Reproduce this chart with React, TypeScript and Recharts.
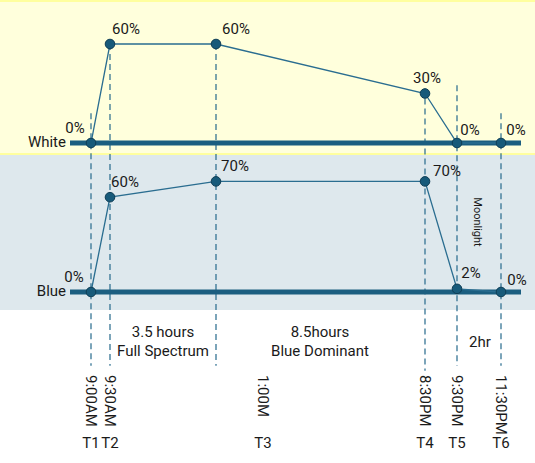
import { ComposedChart, Line, XAxis, YAxis, ReferenceLine, ReferenceDot } from 'recharts'

// schedule stages, left to right
const stages = ['T1', 'T2', 'T3', 'T4', 'T5', 'T6']
const times = ['9:00AM', '9:30AM', '1:00M', '8:30PM', '9:30PM', '11:30PM']
// schematic x position of each stage (the drawing is not to time scale)
const slots = [2.1, 4.0, 14.6, 35.5, 38.7, 43.1]
const whiteLevels = [0, 60, 60, 30, 0, 0]
const blueLevels = [0, 60, 70, 70, 2, 0]

const rows = slots.map((slot, i) => ({ slot, white: whiteLevels[i], blue: blueLevels[i] }))

// label offsets from each point (px)
const whiteLabelOff = [[-16, -15], [16, -15], [20, -15], [2, -16], [13, -13], [15, -13]]
const blueLabelOff = [[-17, -15], [15, -15], [19, -15], [22, -10], [14, -16], [16, -12]]
// top of each dashed marker, in white-axis units
const dashTop = [18, 60, 60, 33, 35, 18]
const dashBottom = [-135, -135, -135, -138, -135, -135]
const timeLabelShift = [0, 0, 47, 0, 0, 0]

const ink = '#1B5E80'
const font = 'Roboto, sans-serif'

const makeDot = (offsets: number[][]) => (p: any) => {
  const { cx, cy, index, value } = p
  const [dx, dy] = offsets[index] || [0, 0]
  return (
    <g key={`d-${index}`}>
      <circle cx={cx} cy={cy} r={4.8} fill="#175A7A" stroke="#0E3D55" strokeWidth={1} />
      <text x={cx + dx} y={cy + dy} textAnchor="middle" dominantBaseline="central"
        fontSize={15} fill="#1a1a1a" fontFamily={font}>{value}%</text>
    </g>
  )
}

const timeLabel = (i: number) => (p: any) => {
  const x = p.cx + timeLabelShift[i]
  const y = p.cy + 83
  return (
    <g>
      <text x={x} y={y} transform={`rotate(90 ${x} ${y})`} dominantBaseline="central"
        fontSize={15} fill="#1a1a1a" fontFamily={font}>{times[i]}</text>
      <text x={x} y={p.cy + 151} textAnchor="middle" dominantBaseline="central"
        fontSize={15} fill="#1a1a1a" fontFamily={font}>{stages[i]}</text>
    </g>
  )
}

const txt: React.CSSProperties = { position: 'absolute', fontSize: 15, lineHeight: '19px', color: '#1a1a1a', whiteSpace: 'nowrap' }

export default function App() {
  return (
    <div style={{ position: 'absolute', left: 0, top: 0, width: 535, height: 463, fontFamily: font, background: '#fff' }}>
      <div style={{ position: 'absolute', left: 0, top: 0, width: 535, height: 155, background: '#FFFFDC', borderTop: '2px solid #FFFF9E', borderBottom: '2px solid #FFFF9E', boxSizing: 'border-box' }} />
      <div style={{ position: 'absolute', left: 0, top: 155, width: 535, height: 155, background: '#DEE8ED' }} />

      <div style={{ position: 'absolute', left: 0, top: 0 }}>
        <ComposedChart width={535} height={463} data={rows} margin={{ top: 0, right: 14, left: 70, bottom: 0 }}>
          <XAxis dataKey="slot" type="number" domain={[0, 45.1]} hide />
          <YAxis yAxisId="w" type="number" domain={[-193.94, 86.67]} hide />
          <YAxis yAxisId="b" type="number" domain={[-108.23, 184.81]} hide />

          {slots.map((s, i) => (
            <ReferenceLine key={`v-${i}`} yAxisId="w" stroke="#25698C" strokeWidth={1.2} strokeDasharray="6 4"
              segment={[{ x: s, y: dashTop[i] }, { x: s, y: dashBottom[i] }]} />
          ))}
          <ReferenceLine yAxisId="w" y={0} stroke={ink} strokeWidth={5} />
          <ReferenceLine yAxisId="b" y={0} stroke={ink} strokeWidth={5} />

          <Line yAxisId="w" dataKey="white" stroke="#2A6D90" strokeWidth={1.3} dot={makeDot(whiteLabelOff)} isAnimationActive={false} />
          <Line yAxisId="b" dataKey="blue" stroke="#2A6D90" strokeWidth={1.3} dot={makeDot(blueLabelOff)} isAnimationActive={false} />

          {slots.map((s, i) => (
            <ReferenceDot key={`t-${i}`} yAxisId="b" x={s} y={0} r={0} shape={timeLabel(i)} />
          ))}
        </ComposedChart>
      </div>

      <div style={{ ...txt, left: 0, width: 66, textAlign: 'right', top: 133 }}>White</div>
      <div style={{ ...txt, left: 0, width: 66, textAlign: 'right', top: 282 }}>Blue</div>
      <div style={{ ...txt, fontSize: 11, left: 477, top: 222, transform: 'translate(-50%, -50%) rotate(90deg)' }}>Moonlight</div>
      <div style={{ ...txt, left: 163, top: 323, transform: 'translateX(-50%)', textAlign: 'center' }}>3.5 hours<br />Full Spectrum</div>
      <div style={{ ...txt, left: 320, top: 323, transform: 'translateX(-50%)', textAlign: 'center' }}>8.5hours<br />Blue Dominant</div>
      <div style={{ ...txt, left: 480, top: 333, transform: 'translateX(-50%)' }}>2hr</div>
    </div>
  )
}
